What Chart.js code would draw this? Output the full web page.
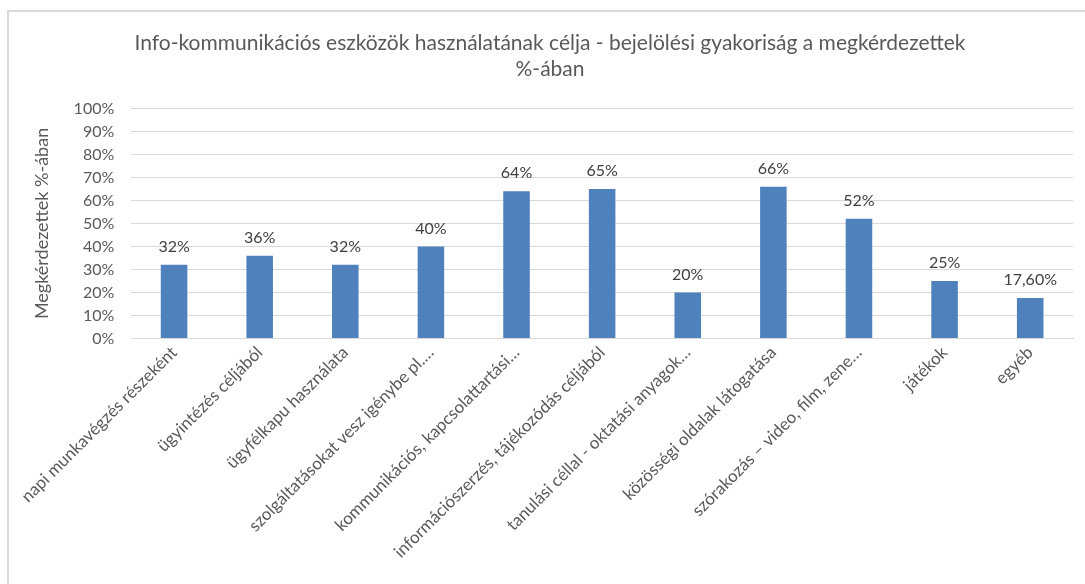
<!DOCTYPE html>
<html>
<head>
<meta charset="utf-8">
<script src="https://cdn.jsdelivr.net/npm/chart.js@4/dist/chart.umd.min.js"></script>
<style>
  html, body { margin: 0; padding: 0; background: #fff; }
  #frame {
    position: absolute; left: 7px; top: 10px; width: 1078px; height: 574px;
    border-top: 2px solid #d9d9d9; border-left: 2px solid #d9d9d9;
  }
  #wrap { position: absolute; left: 0; top: 0; width: 1076px; height: 572px; }
</style>
</head>
<body>
<div id="frame"><div id="wrap"><canvas id="chart"></canvas></div></div>
<script>
const categories = [
  "napi munkavégzés részeként",
  "ügyintézés céljából",
  "ügyfélkapu használata",
  "szolgáltatásokat vesz igénybe pl.…",
  "kommunikációs, kapcsolattartási…",
  "információszerzés, tájékozódás céljából",
  "tanulási céllal - oktatási anyagok…",
  "közösségi oldalak látogatása",
  "szórakozás – video, film, zene…",
  "játékok",
  "egyéb"
];
const values = [32, 36, 32, 40, 64, 65, 20, 66, 52, 25, 17.6];
const valueLabels = ["32%", "36%", "32%", "40%", "64%", "65%", "20%", "66%", "52%", "25%", "17,60%"];

const titleLines = ["Info-kommunikációs eszközök használatának célja - bejelölési gyakoriság a megkérdezettek", "%-ában"];
const yTitle = "Megkérdezettek %-ában";

const FONT = "Lato, 'Open Sans', sans-serif";

// értékcímkék az oszlopok fölé
const barLabels = {
  id: "barLabels",
  afterDatasetsDraw(chart) {
    const ctx = chart.ctx;
    const meta = chart.getDatasetMeta(0);
    ctx.save();
    ctx.font = "16px " + FONT;
    ctx.fillStyle = "#404040";
    ctx.textAlign = "center";
    ctx.textBaseline = "bottom";
    meta.data.forEach((bar, i) => {
      ctx.fillText(valueLabels[i], bar.x, bar.y - 10);
    });
    ctx.restore();
  }
};

const ctx = document.getElementById("chart").getContext("2d");
new Chart(ctx, {
  type: "bar",
  data: {
    labels: categories,
    datasets: [{
      data: values,
      backgroundColor: "#4f81bd",
      borderWidth: 0,
      barPercentage: 0.62,
      categoryPercentage: 0.5
    }]
  },
  options: {
    responsive: true,
    maintainAspectRatio: false,
    animation: false,
    layout: { padding: { left: 18, right: 12, top: 0, bottom: 18 } },
    plugins: {
      legend: { display: false },
      tooltip: { enabled: false },
      title: {
        display: true,
        text: titleLines,
        color: "#595959",
        font: { family: FONT, size: 21, weight: "normal" },
        lineHeight: 1.25,
        padding: { top: 19, bottom: 27 }
      }
    },
    scales: {
      x: {
        grid: { display: false, drawTicks: false },
        border: { color: "#d9d9d9", width: 1 },
        ticks: {
          color: "#595959",
          font: { family: FONT, size: 17 },
          maxRotation: 45,
          minRotation: 45,
          autoSkip: false,
          padding: 4
        }
      },
      y: {
        min: 0,
        max: 100,
        grid: { color: "#d9d9d9", drawTicks: false },
        border: { display: false },
        ticks: {
          stepSize: 10,
          color: "#595959",
          font: { family: FONT, size: 16 },
          padding: 17,
          callback: v => v + "%"
        },
        title: {
          display: true,
          text: yTitle,
          color: "#595959",
          font: { family: FONT, size: 18 },
          padding: { bottom: 4 }
        }
      }
    }
  },
  plugins: [barLabels]
});
</script>
</body>
</html>
